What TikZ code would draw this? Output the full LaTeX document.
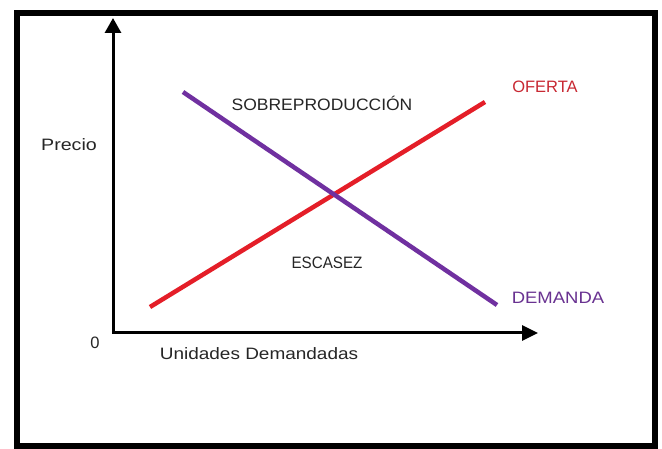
\documentclass[tikz,border=0pt]{standalone}
\usepackage{fontspec}
\setmainfont{Liberation Sans}
\usetikzlibrary{arrows.meta}
\definecolor{ofred}{RGB}{228,30,40}
\definecolor{dempurple}{RGB}{112,48,160}
\definecolor{oflabel}{RGB}{200,40,50}
\definecolor{demlabel}{RGB}{105,50,145}
\newcommand{\wid}[2]{\scalebox{#1}[1]{#2}}
\tikzset{
  lbl/.style={font=\fontsize{16.5}{19}\selectfont, inner sep=0pt, text=black!85},
  axisline/.style={line width=3pt, line join=miter, {Triangle[length=15pt,width=16pt]}-{Triangle[length=16pt,width=15pt]}},
  curve/.style={line width=4.5pt}
}
\begin{document}
\begin{tikzpicture}[x=1pt,y=-1pt]
\useasboundingbox (0,0) rectangle (662,449);
\fill[white] (0,0) rectangle (662,449);
\draw[line width=6pt] (17,13) rectangle (655,446);
% axes
\coordinate (ytop) at (113,18);
\coordinate (orig) at (113,333);
\coordinate (xend) at (538,333);
\draw[axisline] (ytop) -- (orig) -- (xend);
% curves
\coordinate (of1) at (150,307);
\coordinate (of2) at (485,102);
\coordinate (de1) at (183,92);
\coordinate (de2) at (497,305);
\draw[curve, ofred] (of1) -- (of2);
\draw[curve, dempurple] (de1) -- (de2);
% labels
\node[lbl] (precio) at (69,145) {\wid{1.19}{Precio}};
\node[lbl] (cero) at (95,343) {0};
\node[lbl] (unid) at (259,354) {\wid{1.15}{Unidades Demandadas}};
\node[lbl, text=oflabel] (oferta) at (545,87) {OFERTA};
\node[lbl, text=demlabel] (demanda) at (558,298) {\wid{1.12}{DEMANDA}};
\node[lbl] (sobre) at (322,103) {\wid{1.06}{SOBREPRODUCCIÓN}};
\node[lbl] (escasez) at (327,263) {\wid{0.92}{ESCASEZ}};
\end{tikzpicture}
\end{document}
